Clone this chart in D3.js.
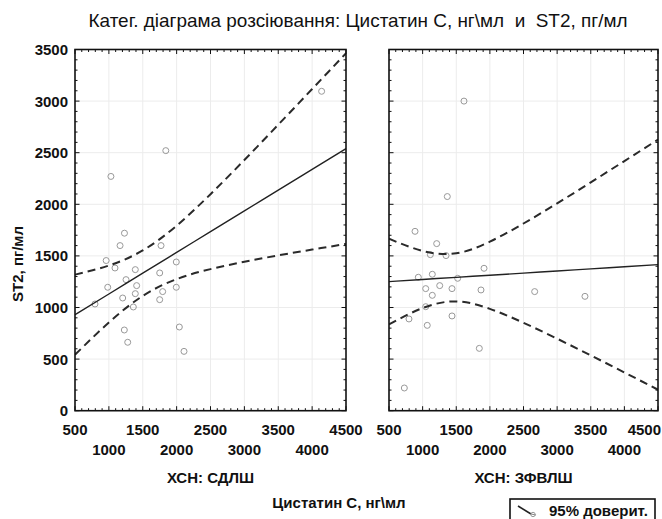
<!DOCTYPE html>
<html><head><meta charset="utf-8">
<script src="https://cdn.jsdelivr.net/npm/d3@7/dist/d3.min.js"></script>
<style>
body{margin:0;background:#fff;}
text{font-family:"Liberation Sans",Arial,sans-serif;fill:#111;white-space:pre;}
</style></head>
<body><svg id="c" width="662" height="519"></svg>
<script>
// ---- data ----
const title = "Катег. діаграма розсіювання: Цистатин С, нг\\мл  и  ST2, пг/мл";
const yLabel = "ST2, пг/мл";
const xLabel = "Цистатин С, нг\\мл";
const panelNames = ["ХСН: СДЛШ", "ХСН: ЗФВЛШ"];
const legendText = "95% доверит.";
const xTicksRow1 = [500, 1500, 2500, 3500, 4500];
const xTicksRow2 = [1000, 2000, 3000, 4000];
const yTicks = [0, 500, 1000, 1500, 2000, 2500, 3000, 3500];

const leftX = [4140,1840,1030,1230,1165,1770,960,1090,1390,1995,1750,1253,983,1410,1390,1794,1995,1204,1750,1361,795,1228,2040,1278,2109];
const leftY = [3095,2520,2270,1720,1600,1600,1455,1383,1367,1441,1335,1270,1196,1212,1134,1154,1196,1092,1076,1005,1034,782,811,663,575];

const rightX = [1615,1367,887,1209,1115,1348,1913,936,1144,1521,1046,1254,1437,1868,1144,2666,3414,1046,797,1069,1437,1843,728];
const rightY = [3000,2075,1738,1619,1512,1503,1380,1293,1322,1283,1183,1212,1183,1170,1118,1154,1108,1008,889,827,918,604,220];

const bandX = [500,1000,1500,2000,2500,3000,3500,4000,4500];
const leftFit   = [930,1131,1333,1534,1735,1936,2138,2339,2540];
const leftUpper = [1318,1407,1553,1793,2098,2429,2771,3117,3464];
const leftLower = [542,855,1112,1275,1372,1443,1505,1561,1616];
const rightFit   = [1251,1272,1292,1313,1333,1354,1374,1395,1415];
const rightUpper = [1666,1548,1525,1638,1814,2009,2212,2419,2627];
const rightLower = [836,995,1059,987,852,698,536,371,203];

// ---- layout ----
const svg = d3.select("#c");
const W = 662;
const pTop = 49.5, pBottom = 410.7;
const panels = [
  {x0:75, x1:346, px:leftX, py:leftY, fit:leftFit, up:leftUpper, lo:leftLower, name:panelNames[0], ylabels:true},
  {x0:389, x1:658, px:rightX, py:rightY, fit:rightFit, up:rightUpper, lo:rightLower, name:panelNames[1], ylabels:false}
];
const y = d3.scaleLinear().domain([0,3500]).range([pBottom, pTop]);

// title
const t = svg.append("text").attr("x",358).attr("y",27).attr("text-anchor","middle")
  .attr("xml:space","preserve").style("font-size","16px").text(title);
const tw = t.node().getComputedTextLength();
t.style("font-size", (16*539/tw).toFixed(2)+"px");

panels.forEach(p => {
  const x = d3.scaleLinear().domain([500,4500]).range([p.x0, p.x1]);
  const g = svg.append("g");
  // grid
  const gx = d3.range(1000, 4500, 500), gy = d3.range(500, 3500, 500);
  g.selectAll(".gx").data(gx).join("line").attr("class","gx").attr("x1",d=>x(d)).attr("x2",d=>x(d))
    .attr("y1",pTop).attr("y2",pBottom).attr("stroke","#ececec").attr("stroke-width",1);
  g.selectAll(".gy").data(gy).join("line").attr("class","gy").attr("y1",d=>y(d)).attr("y2",d=>y(d))
    .attr("x1",p.x0).attr("x2",p.x1).attr("stroke","#ececec").attr("stroke-width",1);
  // minor/major ticks (inward on all sides)
  const xt = d3.range(500, 4501, 100);
  const yt = d3.range(0, 3501, 100);
  xt.forEach(v => {
    const L = v % 500 === 0 ? 4.5 : 2.5;
    g.append("line").attr("x1",x(v)).attr("x2",x(v)).attr("y1",pBottom).attr("y2",pBottom-L).attr("stroke","#111").attr("stroke-width",1);
    g.append("line").attr("x1",x(v)).attr("x2",x(v)).attr("y1",pTop).attr("y2",pTop+L).attr("stroke","#111").attr("stroke-width",1);
  });
  yt.forEach(v => {
    const L = v % 500 === 0 ? 4.5 : 2.5;
    g.append("line").attr("y1",y(v)).attr("y2",y(v)).attr("x1",p.x0).attr("x2",p.x0+L).attr("stroke","#111").attr("stroke-width",1);
    g.append("line").attr("y1",y(v)).attr("y2",y(v)).attr("x1",p.x1).attr("x2",p.x1-L).attr("stroke","#111").attr("stroke-width",1);
  });
  // points
  g.selectAll("circle.pt").data(p.px.map((d,i)=>[d,p.py[i]])).join("circle").attr("class","pt")
    .attr("cx",d=>x(d[0])).attr("cy",d=>y(d[1])).attr("r",3)
    .attr("fill","none").attr("stroke","#999").attr("stroke-width",1);
  // lines
  const line = d3.line().x((d,i)=>x(bandX[i])).y(d=>y(d)).curve(d3.curveNatural);
  const clipId = "clip"+p.x0;
  svg.append("clipPath").attr("id",clipId).append("rect").attr("x",p.x0).attr("y",pTop).attr("width",p.x1-p.x0).attr("height",pBottom-pTop);
  const lg = g.append("g").attr("clip-path",`url(#${clipId})`);
  lg.append("path").attr("d",line(p.fit)).attr("fill","none").attr("stroke","#222").attr("stroke-width",1.4);
  [p.up,p.lo].forEach(b => lg.append("path").attr("d",line(b)).attr("fill","none")
    .attr("stroke","#2a2a2a").attr("stroke-width",2).attr("stroke-dasharray","8,5"));
  // frame
  g.append("rect").attr("x",p.x0).attr("y",pTop).attr("width",p.x1-p.x0).attr("height",pBottom-pTop)
    .attr("fill","none").attr("stroke","#111").attr("stroke-width",1.6);
  // tick labels
  const lab = (sel) => sel.style("font-size","15px").style("font-weight","bold");
  xTicksRow1.forEach(v => {
    const tx = lab(g.append("text").attr("x",x(v)).attr("y",435).attr("text-anchor","middle").text(v));
    const w = tx.node().getComputedTextLength();
    if (x(v) + w/2 > W - 1) tx.attr("text-anchor","end").attr("x", W - 1);
  });
  xTicksRow2.forEach(v => lab(g.append("text").attr("x",x(v)).attr("y",455).attr("text-anchor","middle").text(v)));
  if (p.ylabels) yTicks.forEach(v => lab(g.append("text").attr("x",68).attr("y",y(v)+5.5).attr("text-anchor","end").text(v)));
  lab(g.append("text").attr("x",(p.x0+p.x1)/2).attr("y",483).attr("text-anchor","middle").text(p.name));
});

// axis titles
svg.append("text").attr("transform","translate(23,264) rotate(-90)").attr("text-anchor","middle")
  .style("font-size","15px").style("font-weight","bold").text(yLabel);
svg.append("text").attr("x",339).attr("y",508).attr("text-anchor","middle")
  .style("font-size","15px").style("font-weight","bold").text(xLabel);

// legend
svg.append("rect").attr("x",510).attr("y",499).attr("width",145).attr("height",40)
  .attr("fill","#fff").attr("stroke","#111").attr("stroke-width",1.6);
svg.append("line").attr("x1",518).attr("y1",506).attr("x2",531).attr("y2",514).attr("stroke","#222").attr("stroke-width",1.6);
svg.append("line").attr("x1",531).attr("y1",514).attr("x2",536).attr("y2",515).attr("stroke","#888").attr("stroke-width",1.2);
svg.append("circle").attr("cx",533).attr("cy",514.5).attr("r",2.2).attr("fill","none").attr("stroke","#999").attr("stroke-width",1);
svg.append("text").attr("x",549).attr("y",515.5).style("font-size","15px").style("font-weight","bold").text(legendText);
</script></body></html>
